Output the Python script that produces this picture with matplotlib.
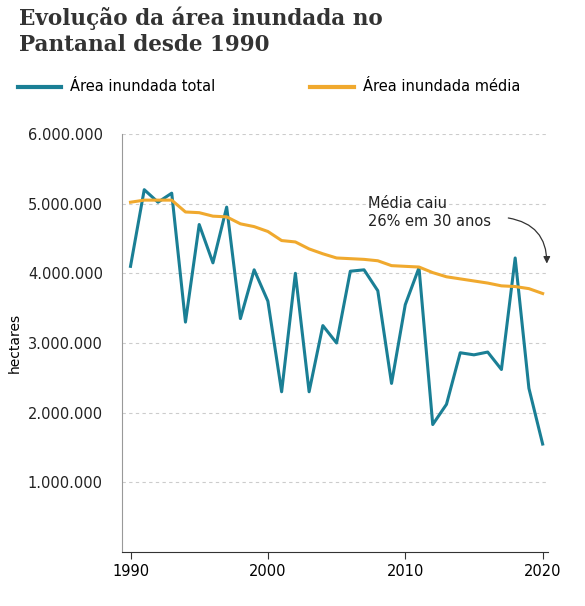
import matplotlib.pyplot as plt
from matplotlib.ticker import FuncFormatter

years = list(range(1990, 2021))
total_mi = [4.10, 5.20, 5.02, 5.15, 3.30, 4.70, 4.15, 4.95, 3.35, 4.05,
            3.60, 2.30, 4.00, 2.30, 3.25, 3.00, 4.03, 4.05, 3.75, 2.42,
            3.55, 4.08, 1.83, 2.12, 2.86, 2.83, 2.87, 2.62, 4.22, 2.35, 1.55]
media_mi = [5.02, 5.05, 5.05, 5.05, 4.88, 4.87, 4.82, 4.81, 4.71, 4.67,
            4.60, 4.47, 4.45, 4.35, 4.28, 4.22, 4.21, 4.20, 4.18, 4.11,
            4.10, 4.09, 4.01, 3.95, 3.92, 3.89, 3.86, 3.82, 3.81, 3.78, 3.71]
total = [v * 1e6 for v in total_mi]
media = [v * 1e6 for v in media_mi]

teal = "#1a7f95"
orange = "#f0a92e"

fig = plt.figure(figsize=(5.85, 6.06), dpi=100)
ax = fig.add_axes([0.209, 0.089, 0.728, 0.69])

ax.plot(years, total, color=teal, lw=2.2)
ax.plot(years, media, color=orange, lw=2.2)

ax.set_xlim(1989.4, 2020.4)
ax.set_ylim(0, 6e6)
ax.set_yticks([1e6, 2e6, 3e6, 4e6, 5e6, 6e6])
ax.yaxis.set_major_formatter(FuncFormatter(lambda v, p: f"{int(v):,}".replace(",", ".")))
ax.set_xticks([1990, 2000, 2010, 2020])
ax.tick_params(axis="y", length=0, labelsize=10.5, colors="#222222", pad=14)
ax.tick_params(axis="x", length=5, color="#333333", labelsize=10.5)
ax.grid(axis="y", ls=(0, (3, 3)), color="#cccccc", lw=0.8)
for s in ["top", "right"]:
    ax.spines[s].set_visible(False)
ax.spines["left"].set_color("#999999")
ax.spines["bottom"].set_color("#333333")
ax.set_ylabel("hectares", fontsize=10)

ax.text(2007.3, 4.87e6, "Média caiu\n26% em 30 anos", fontsize=10.5,
        ha="left", va="center", color="#222222")
ax.annotate("", xy=(2020.3, 4.1e6), xytext=(2017.3, 4.8e6),
            arrowprops=dict(arrowstyle="-|>", color="#333333", lw=0.9,
                            connectionstyle="arc3,rad=-0.45"))

fig.text(0.033, 0.99, "Evolução da área inundada no\nPantanal desde 1990",
         fontsize=15.5, fontweight="bold", family="DejaVu Serif",
         va="top", ha="left", color="#333333", linespacing=1.25)

fig.lines.append(plt.Line2D([0.03, 0.105], [0.857, 0.857], color=teal, lw=3,
                            transform=fig.transFigure))
fig.text(0.12, 0.857, "Área inundada total", fontsize=10.5, va="center")
fig.lines.append(plt.Line2D([0.53, 0.605], [0.857, 0.857], color=orange, lw=3,
                            transform=fig.transFigure))
fig.text(0.62, 0.857, "Área inundada média", fontsize=10.5, va="center")

fig.savefig("out.png", dpi=100)
